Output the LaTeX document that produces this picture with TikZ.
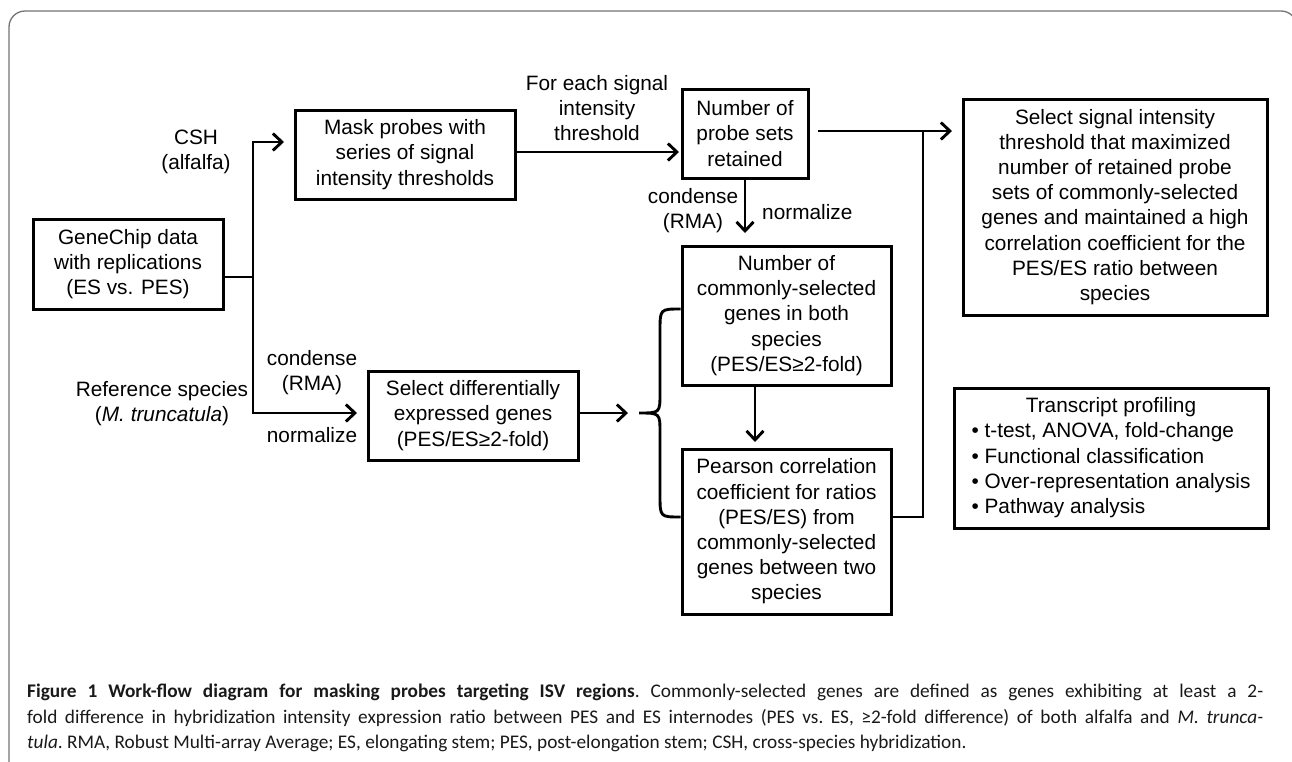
\documentclass[tikz,border=0pt]{standalone}
\usepackage{fontspec}
\setmainfont{Liberation Sans}
\newfontfamily\capfont{Carlito}
\usetikzlibrary{arrows.meta}
\begin{document}
\begin{tikzpicture}[x=1pt,y=-1pt,
  box/.style={draw, line width=3pt, align=center, inner sep=0pt, font=\fontsize{20.8}{25.2}\selectfont},
  lbl/.style={align=center, inner sep=0pt, font=\fontsize{20.8}{25.2}\selectfont},
  conn/.style={line width=2.9pt},
  arr/.style={conn, -{Straight Barb[length=9pt,width=17pt]}}]
\useasboundingbox (0,0) rectangle (1292,761);
\clip (0,0) rectangle (1292,761);
\draw[black!55, line width=1.3pt, rounded corners=16pt] (9,800) -- (9,11) -- (1297,11) -- (1297,800);

% boxes
\node[box, minimum width=190pt, minimum height=90pt] (gene) at (128,264) {GeneChip data\\with replications\\(ES vs. PES)};
\node[box, minimum width=220pt, minimum height=89pt] (mask) at (405,154.5) {Mask probes with\\series of signal\\intensity thresholds};
\node[box, minimum width=126pt, minimum height=89pt] (nps) at (745,133.5) {Number of\\probe sets\\retained};
\node[box, minimum width=210pt, minimum height=89pt] (sdiff) at (473,415.5) {Select differentially\\expressed genes\\(PES/ES≥2-fold)};
\node[box, minimum width=209pt, minimum height=139pt] (common) at (786.5,315.5) {Number of\\commonly-selected\\genes in both\\species\\(PES/ES≥2-fold)};
\node[box, minimum width=209pt, minimum height=165pt] (pear) at (786.5,531.5) {Pearson correlation\\coefficient for ratios\\(PES/ES) from\\commonly-selected\\genes between two\\species};
\node[box, minimum width=304pt, minimum height=216pt] (ssig) at (1115,207) {Select signal intensity\\threshold that maximized\\number of retained probe\\sets of commonly-selected\\genes and maintained a high\\correlation coefficient for the\\PES/ES ratio between\\species};
\node[box, minimum width=314pt, minimum height=140pt] (tp) at (1111,458) {\begin{tabular}{@{}l@{}}\multicolumn{1}{@{}c@{}}{Transcript profiling}\\• t-test, ANOVA, fold-change\\• Functional classification\\• Over-representation analysis\\• Pathway analysis\end{tabular}};

% labels
\node[lbl] (csh) at (196,152) {CSH\\(alfalfa)};
\node[lbl] (ref) at (162,404) {Reference species\\(\textit{M. truncatula})};
\node[lbl] (cond1) at (312,373) {condense\\(RMA)};
\node[lbl] (norm1) at (312,435) {normalize};
\node[lbl] (feach) at (597,108) {For each signal\\intensity\\threshold};
\node[lbl] (cond2) at (693,210.5) {condense\\(RMA)};
\node[lbl, anchor=west] (norm2) at (762,212) {normalize};

% connectors
\coordinate (j) at (253,277);
\coordinate (tm) at (284,142);
\coordinate (ts) at (357,413);
\draw[conn] ([yshift=-13pt]gene.east) -- (j);
\draw[arr] (j) |- (tm);
\draw[arr] (j) |- (ts);

\coordinate (ta) at (679,152);
\draw[arr] (mask.east |- ta) -- (ta);

\coordinate (r0) at (818,131);
\coordinate (r1) at (952,131);
\draw[arr] (r0) -- (r1);
\coordinate (m1) at (923,517);
\coordinate (m2) at (923,129.6);
\draw[conn] (pear.east |- m1) -- (m1) -- (m2);

\coordinate (t2) at (745,233);
\draw[arr] (nps.south) -- (t2);
\coordinate (t3) at (755,442);
\draw[arr] (common.south -| t3) -- (t3);
\coordinate (t4) at (628,413);
\draw[arr] (sdiff.east |- t4) -- (t4);

% brace
\coordinate (bt) at (682,309);
\coordinate (bb) at (682,517);
\coordinate (bm) at (639,413);
\draw[conn] (common.west |- bt) .. controls (660,309) .. (660,331) -- (660,393) .. controls (660,413) .. (bm) .. controls (660,413) .. (660,433) -- (660,495) .. controls (660,517) .. (pear.west |- bb);

% caption
\node[anchor=north west, inner sep=0pt, text width=1236pt, align=justify, text=black!90,
  font=\capfont\fontsize{19.3}{25.5}\selectfont\frenchspacing] (cap) at (27,684)
  {\textbf{Figure 1 Work-flow diagram for masking probes targeting ISV regions}. Commonly-selected genes are defined as genes exhibiting at least a 2-\linebreak fold difference in hybridization intensity expression ratio between PES and ES internodes (PES vs. ES, ≥2-fold difference) of both alfalfa and \textit{M. trunca-}\linebreak \textit{tula}. RMA, Robust Multi-array Average; ES, elongating stem; PES, post-elongation stem; CSH, cross-species hybridization.};
\end{tikzpicture}
\end{document}
